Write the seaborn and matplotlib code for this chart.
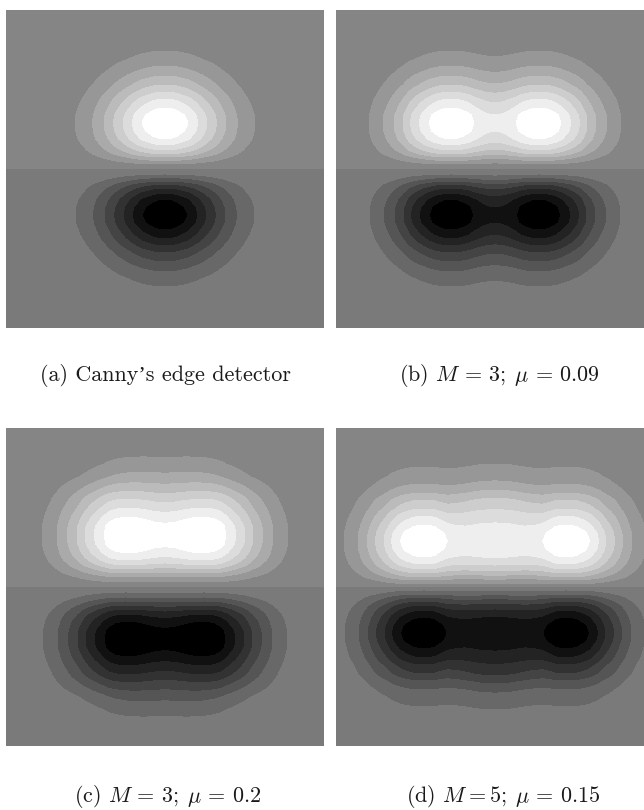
import numpy as np
import matplotlib
matplotlib.use("Agg")
import matplotlib.pyplot as plt
from matplotlib.colors import ListedColormap, BoundaryNorm
import seaborn as sns

sns.set_theme(style="white")
plt.rcParams["mathtext.fontset"] = "cm"

# Grey value of each band (bottom half, then top half)
greys_lower = [0, 17, 35, 50, 68, 85, 104, 122]
greys_upper = [133, 151, 170, 187, 205, 220, 238, 255]
band_edges = [-99, -7, -6, -5, -4, -3, -2, -1, 0, 1, 2, 3, 4, 5, 6, 7, 99]

# depth_*: distance from the middle line (px); level_*: band level read down the peak column
# span_*: distance from the centre column (px); cross_*: band level read along the peak row
depth_a = [0, 5, 8.5, 12, 15, 19, 24, 30, 38, 46, 54, 61, 65.5, 70, 73.5, 77, 80.5, 84, 88, 93, 98, 103, 110, 118, 130, 159]
level_a = [0, 1, 2, 3, 4, 5, 6, 7, 7.75, 8, 7.75, 7, 6.55, 6, 5.5, 5, 4.5, 4, 3.55, 3, 2.45, 2, 1.42, 1, 0.55, 0.12]
span_a = [0, 6, 12, 23, 28, 33, 37.5, 42, 47, 51.5, 56, 61, 66, 72.5, 81, 90, 105, 159]
cross_a = [8, 7.93, 7.7, 7, 6.5, 6, 5.5, 5, 4.5, 4, 3.5, 3, 2.55, 2, 1.42, 1, 0.5, 0.05]

depth_b = list(depth_a)
level_b = list(level_a)
span_b = [0, 5, 10, 15, 21, 26, 32, 38, 44, 50, 56, 61, 66, 71, 76, 80.5, 84.7, 88, 92, 96.5, 101, 106, 112, 118, 126, 140, 159]
cross_b = [6.2, 6.25, 6.4, 6.65, 7, 7.4, 7.7, 7.93, 8, 7.93, 7.7, 7.4, 7, 6.5, 6, 5.5, 5, 4.55, 4, 3.5, 3, 2.5, 2, 1.5, 1, 0.4, 0.1]

depth_c = [0, 5, 10, 14, 18, 22, 27, 34, 43, 52, 61, 70, 74.5, 79, 83.5, 88, 92, 96, 100.5, 105, 110, 116, 123, 131, 145, 159]
level_c = [0, 1, 2, 3, 4, 5, 6, 7, 7.8, 8, 7.8, 7, 6.5, 6, 5.5, 5, 4.5, 4, 3.5, 3, 2.45, 2, 1.45, 1, 0.45, 0.15]
span_c = [0, 10, 20, 30, 40, 50, 56, 61, 66, 71, 75.5, 80, 84, 88, 93, 97.6, 103, 108, 115, 123, 140, 159]
cross_c = [7.4, 7.5, 7.75, 7.95, 8, 7.8, 7.5, 7, 6.5, 6, 5.5, 5, 4.5, 4, 3.5, 3, 2.5, 2, 1.45, 1, 0.3, 0.1]
# Outer rows of panels c and d follow a different width: share of the outer profile per depth, and its ratio per column
fade_c = [0] * 16 + [0.05, 0.15, 0.3, 0.5, 0.72, 0.9, 1, 1, 1, 1]
trim_c = [1, 1, 0.98, 0.95, 0.91, 0.86, 0.82, 0.79, 0.76, 0.73, 0.71, 0.69, 0.68, 0.68, 0.68, 0.7, 0.73, 0.78, 0.86, 1, 1, 1]

depth_d = [0, 3, 7, 10, 14, 18, 23, 30, 38, 46, 54, 62, 66.5, 71, 74.5, 78, 82.5, 87, 90.5, 94, 98, 103, 111, 120, 135, 159]
level_d = [0, 1, 2, 3, 4, 5, 6, 7, 7.75, 8, 7.75, 7, 6.5, 6, 5.5, 5, 4.5, 4, 3.5, 3, 2.55, 2, 1.45, 1, 0.45, 0.2]
span_d = [0, 15, 30, 40, 47.7, 54, 60, 66, 71, 76, 82, 88.5, 94.7, 99, 103.7, 107, 111, 115.5, 119.7, 123.5, 127.7, 132, 137, 143, 151, 159]
cross_d = [6.9, 6.85, 6.7, 6.8, 7, 7.4, 7.8, 7.95, 8, 7.95, 7.8, 7.45, 7, 6.5, 6, 5.5, 5, 4.5, 4, 3.5, 3, 2.5, 2, 1.5, 1, 0.6]
fade_d = [0] * 11 + [0.05, 0.15, 0.3, 0.4, 0.5, 0.62, 0.75, 0.85, 0.95, 1, 1, 1, 1, 1, 1]
trim_d = [1.3, 1.27, 1.19, 1.1, 1.04, 1.01] + [1] * 20

captions = [
    "(a) Canny\u2019s edge detector",
    r"(b) $M\,=\,3;\;\mu\,=\,0.09$",
    r"(c) $M\,=\,3;\;\mu\,=\,0.2$",
    r"(d) $M{=}5;\;\mu\,=\,0.15$",
]

panels = [
    (depth_a, level_a, span_a, cross_a, None, None),
    (depth_b, level_b, span_b, cross_b, None, None),
    (depth_c, level_c, span_c, cross_c, fade_c, trim_c),
    (depth_d, level_d, span_d, cross_d, fade_d, trim_d),
]

W, H = 644, 810
boxes = [(6, 10), (336, 10), (6, 428), (336, 428)]
caption_xy = [(165, 375), (499, 375), (168, 797), (503, 797)]
SIDE = 318

colours = [(g / 255,) * 3 for g in greys_lower + greys_upper]
cmap = ListedColormap(colours)
norm = BoundaryNorm(band_edges, cmap.N)


def mirrored(a):
    a = np.asarray(a, float)
    return np.concatenate([a[:0:-1], a])


fig = plt.figure(figsize=(W / 100, H / 100), dpi=100, facecolor="white")

for (depth, level, span, cross, fade, trim), (left, top), cap, (cx, cy) in zip(panels, boxes, captions, caption_xy):
    ax = fig.add_axes([left / W, 1 - (top + SIDE) / H, SIDE / W, SIDE / H])
    sns.heatmap(np.array([[0.5], [-0.5]]), cmap=cmap, norm=norm, cbar=False,
                xticklabels=False, yticklabels=False, ax=ax)
    d = np.asarray(depth, float)
    yy = np.concatenate([-d[:0:-1], d])
    vv = np.concatenate([-np.asarray(level, float)[:0:-1], np.asarray(level, float)])
    u = np.asarray(span, float)
    xx = np.concatenate([-u[:0:-1], u])
    field = np.outer(vv, mirrored(cross)) / 8
    if fade is not None:
        field = field * (1 - np.outer(mirrored(fade), 1 - mirrored(trim)))
    ax.contourf((xx + 159) / 318, 1 - yy / 159, field, levels=band_edges,
                cmap=cmap, norm=norm, antialiased=False)
    ax.set_xlim(0, 1)
    ax.set_ylim(2, 0)
    ax.set_axis_off()
    fig.text(cx / W, 1 - cy / H, cap, ha="center", va="center", fontsize=15.9,
             family=["cmr10", "Liberation Serif"], color="#1a1a1a")

fig.savefig("out.png", dpi=100, facecolor="white")
